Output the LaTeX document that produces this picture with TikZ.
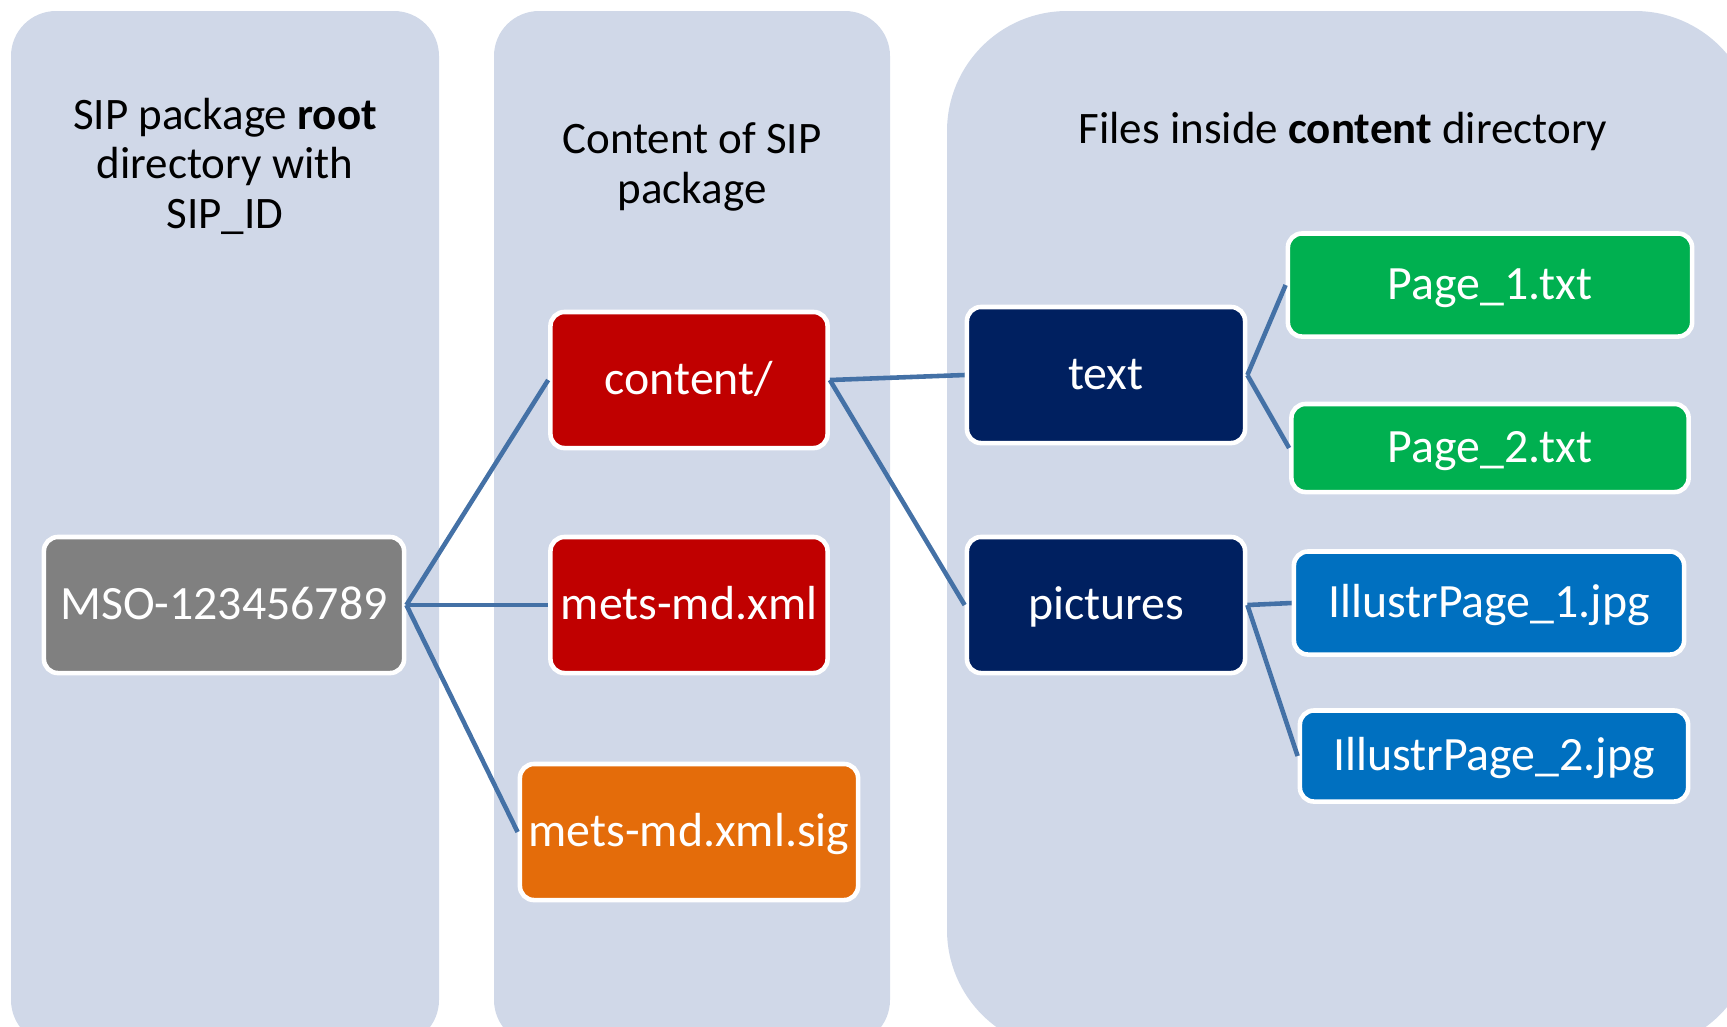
\documentclass[tikz,border=0pt]{standalone}
\usepackage{fontspec}
\setmainfont{Carlito}
\usepackage{tikz}

\definecolor{panelbg}{HTML}{D0D8E8}
\definecolor{rootgray}{HTML}{808080}
\definecolor{dirred}{HTML}{C00000}
\definecolor{sigorange}{HTML}{E46C0A}
\definecolor{foldernavy}{HTML}{002060}
\definecolor{txtgreen}{HTML}{00B050}
\definecolor{jpgblue}{HTML}{0070C0}
\definecolor{linkblue}{HTML}{4471A6}

\begin{document}
\begin{tikzpicture}[x=0.01cm, y=-0.01cm,
    panel/.style={fill=panelbg},
    heading/.style={align=center, font=\fontsize{12.8}{14.1}\selectfont},
    filebox/.style={draw=white, line width=1.3pt, rounded corners=4pt, text=white,
        font=\fontsize{13.6}{16}\selectfont, inner sep=0pt, minimum height=1.36cm,
        text height=11pt, text depth=3pt},
    link/.style={draw=linkblue, line width=1.3pt}]
    \useasboundingbox (0,0) rectangle (1727,1026);
    \clip (0,0) rectangle (1727,1026);
    % columns
    \fill[panel, rounded corners=0.45cm] (11,11) rectangle (439,1045);
    \fill[panel, rounded corners=0.45cm] (494,11) rectangle (890,1045);
    \fill[panel, rounded corners=1.2cm] (947,11) rectangle (1755,1050);
    \node[heading] (head1) at (225,166) {SIP package \textbf{root}\\ directory with\\ SIP\_ID};
    \node[heading] (head2) at (692,167) {Content of SIP\\ package};
    \node[heading] (head3) at (1343,131) {Files inside \textbf{content} directory};
    % boxes
    \node[filebox, fill=rootgray, minimum width=3.6cm] (root) at (224,605) {MSO-123456789};
    \node[filebox, fill=dirred, minimum width=2.77cm] (content) at (689,380) {content/};
    \node[filebox, fill=dirred, minimum width=2.77cm] (mets) at (689,605) {mets-md.xml};
    \node[filebox, fill=sigorange, minimum width=3.38cm] (sig) at (689,832) {mets-md.xml.sig};
    \node[filebox, fill=foldernavy, minimum width=2.78cm] (text) at (1106,375) {text};
    \node[filebox, fill=foldernavy, minimum width=2.78cm] (pictures) at (1106,605) {pictures};
    \node[filebox, fill=txtgreen, minimum width=4.04cm, minimum height=1.03cm] (page1) at (1490,285) {Page\_1.txt};
    \node[filebox, fill=txtgreen, minimum width=3.97cm, minimum height=0.88cm] (page2) at (1490,448) {Page\_2.txt};
    \node[filebox, fill=jpgblue, minimum width=3.9cm, minimum height=1.03cm] (illustr1) at (1489,603) {IllustrPage\_1.jpg};
    \node[filebox, fill=jpgblue, minimum width=3.88cm, minimum height=0.91cm] (illustr2) at (1494,756) {IllustrPage\_2.jpg};
    % links
    \draw[link] (root.east) -- (content.west);
    \draw[link] (root.east) -- (mets.west);
    \draw[link] (root.east) -- (sig.west);
    \draw[link] (content.east) -- (text.west);
    \draw[link] (content.east) -- (pictures.west);
    \draw[link] (text.east) -- (page1.west);
    \draw[link] (text.east) -- (page2.west);
    \draw[link] (pictures.east) -- (illustr1.west);
    \draw[link] (pictures.east) -- (illustr2.west);
\end{tikzpicture}
\end{document}
